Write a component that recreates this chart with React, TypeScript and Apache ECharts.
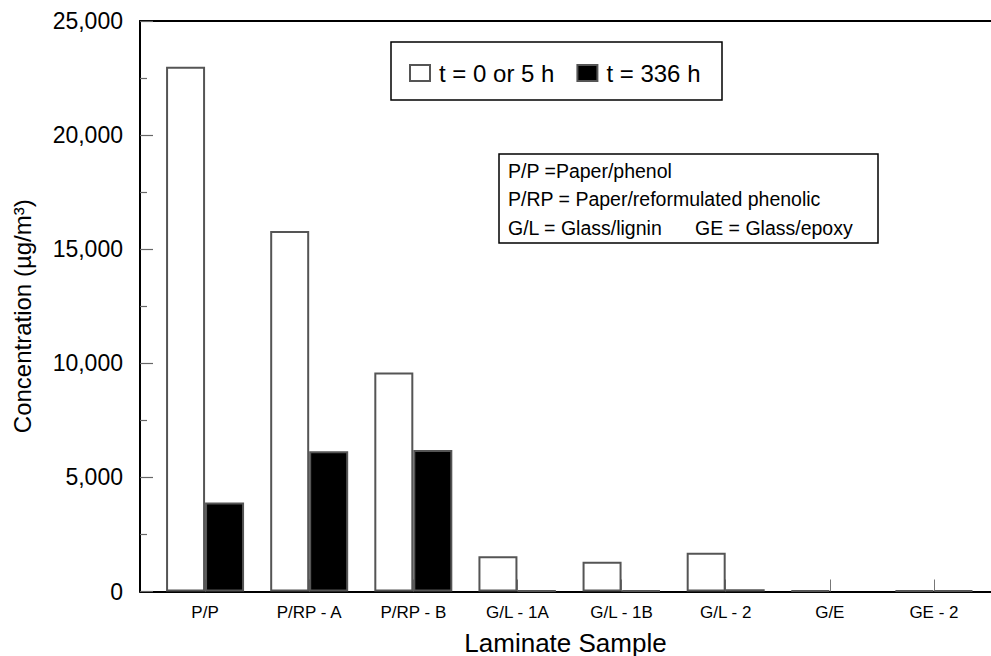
import React, { useEffect, useRef } from "react";
import * as echarts from "echarts";

const categories = ["P/P", "P/RP - A", "P/RP - B", "G/L - 1A", "G/L - 1B", "G/L - 2", "G/E", "GE - 2"];
const seriesNames = ["t = 0 or 5 h", "t = 336 h"];
const valuesStart = [23000, 15800, 9600, 1550, 1300, 1700, 40, 40];
const valuesEnd: (number | null)[] = [3900, 6150, 6200, 50, 50, 100, null, 40];
const noteLines = ["P/P =Paper/phenol", "P/RP = Paper/reformulated phenolic", "G/L = Glass/lignin"];
const noteExtra = "GE = Glass/epoxy";
const yTitle = "Concentration (µg/m³)";
const xTitle = "Laminate Sample";

const FONT = '"Liberation Sans", Arial, Helvetica, sans-serif';

export default function App() {
  const ref = useRef<HTMLDivElement>(null);
  useEffect(() => {
    document.body.style.margin = "0";
    if (!ref.current) return;
    const chart = echarts.init(ref.current, undefined, { renderer: "svg" });
    const top = 21;
    const bottom = 64.5;
    chart.setOption({
      animation: false,
      backgroundColor: "#ffffff",
      textStyle: { fontFamily: FONT },
      grid: [
        { left: 140, top, right: 0, bottom, containLabel: false, outerBoundsMode: "none" },
        { left: 153, top, width: 833, bottom, containLabel: false, outerBoundsMode: "none" },
      ],
      legend: {
        data: seriesNames,
        left: 409,
        top: 61,
        padding: 0,
        icon: "rect",
        itemWidth: 20,
        itemHeight: 16,
        itemGap: 22,
        textStyle: { fontSize: 24, color: "#000", fontFamily: FONT, padding: [0, 0, 0, 4] },
      },
      xAxis: [
        {
          type: "value", gridIndex: 0, min: 0, max: 1, position: "bottom",
          axisLine: { show: true, onZero: false, lineStyle: { color: "#000", width: 2 } },
          axisTick: { show: false }, axisLabel: { show: false }, splitLine: { show: false },
          name: xTitle, nameLocation: "middle", nameGap: 38,
          nameTextStyle: { fontSize: 26, color: "#000", fontFamily: FONT },
        },
        {
          type: "value", gridIndex: 0, min: 0, max: 1, position: "top",
          axisLine: { show: true, onZero: false, lineStyle: { color: "#000", width: 2 } },
          axisTick: { show: false }, axisLabel: { show: false }, splitLine: { show: false },
        },
        {
          type: "category", gridIndex: 1, data: categories, position: "bottom",
          axisLine: { show: false },
          axisTick: { show: true, inside: true, alignWithLabel: true, length: 12, lineStyle: { color: "#777", width: 1 } },
          axisLabel: { fontSize: 17, color: "#000", margin: 12, fontFamily: FONT },
          splitLine: { show: false },
        },
      ],
      yAxis: [
        {
          type: "value", gridIndex: 0, min: 0, max: 25000, interval: 5000,
          axisLine: { show: true, lineStyle: { color: "#000", width: 2 } },
          axisTick: { show: true, inside: true, length: 13, lineStyle: { color: "#666", width: 1.2 } },
          minorTick: { show: true, splitNumber: 2, length: 7, lineStyle: { color: "#666", width: 1.2 } },
          axisLabel: {
            fontSize: 23, color: "#000", margin: 17, fontFamily: FONT,
            formatter: (v: number) => v.toLocaleString("en-US"),
          },
          splitLine: { show: false },
          name: yTitle, nameLocation: "middle", nameGap: 106,
          nameTextStyle: { fontSize: 24, color: "#000", fontFamily: FONT, padding: [0, 20, 0, 0] },
        },
        {
          type: "value", gridIndex: 1, min: 0, max: 25000, show: false,
        },
      ],
      series: [
        {
          name: seriesNames[0], type: "bar", xAxisIndex: 2, yAxisIndex: 1,
          data: valuesStart.map((v) => (v == null ? "-" : v)),
          barWidth: 39, barGap: "0%",
          itemStyle: { color: "#ffffff", borderColor: "#555", borderWidth: 2 },
        },
        {
          name: seriesNames[1], type: "bar", xAxisIndex: 2, yAxisIndex: 1,
          data: valuesEnd.map((v) => (v == null ? "-" : v)),
          barWidth: 39, barGap: "0%",
          itemStyle: { color: "#000000", borderColor: "#555", borderWidth: 2 },
        },
      ],
      graphic: [
        {
          type: "rect", z: 1,
          shape: { x: 391, y: 42, width: 331, height: 58 },
          style: { fill: "transparent", stroke: "#000", lineWidth: 1.5 },
        },
        {
          type: "rect", z: 1,
          shape: { x: 499, y: 154, width: 379, height: 89 },
          style: { fill: "#fff", stroke: "#000", lineWidth: 1.5 },
        },
        ...noteLines.map((t, i) => ({
          type: "text", z: 2, x: 508, y: 171 + i * 28.3,
          style: { text: t, font: `19.5px ${FONT}`, fill: "#000", verticalAlign: "middle" },
        })),
        {
          type: "text", z: 2, x: 695, y: 171 + 2 * 28.3,
          style: { text: noteExtra, font: `19.5px ${FONT}`, fill: "#000", verticalAlign: "middle" },
        },
      ],
    });
    return () => chart.dispose();
  }, []);
  return <div ref={ref} style={{ width: 991, height: 656 }} />;
}
